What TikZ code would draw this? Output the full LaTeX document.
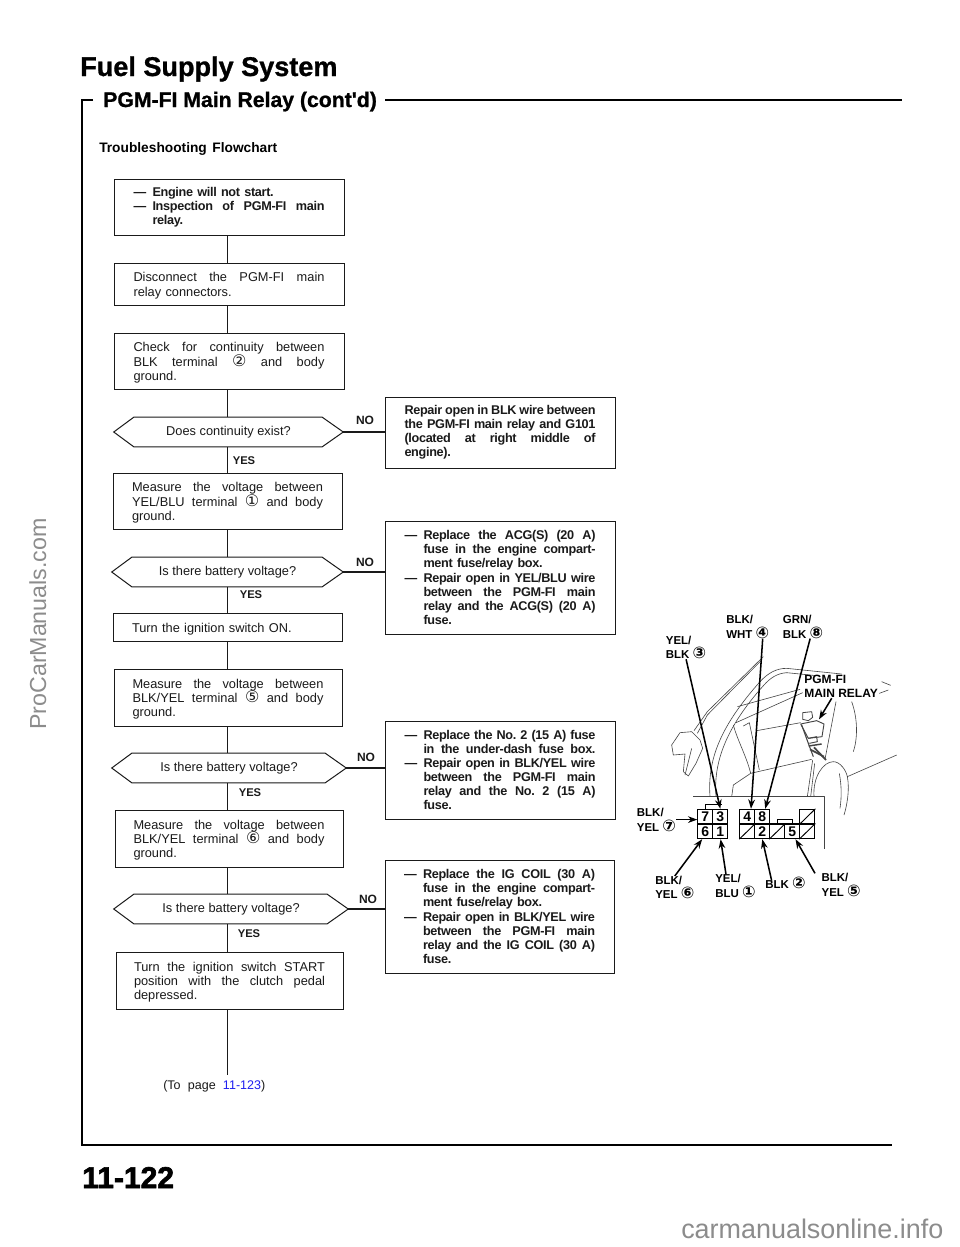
\documentclass[tikz,border=0pt]{standalone}
\usepackage{fontspec}
\setmainfont{Liberation Sans}
\newfontfamily\symf{DejaVu Sans}
\newfontfamily\bt[LetterSpace=-2.5]{Liberation Sans}
\newfontfamily\hv[FakeBold=1]{Liberation Sans Bold}
\newfontfamily\hvv[FakeBold=2.2]{Liberation Sans Bold}
\usetikzlibrary{arrows.meta,calc}
\definecolor{ink}{HTML}{1A1A1A}
\definecolor{art}{HTML}{444444}
\definecolor{link}{HTML}{2020F0}
\definecolor{mark}{HTML}{8C8C8C}
\newcommand\cn[1]{\smash{\symf\fontsize{12pt}{12pt}\selectfont #1}}
\newlength\ju \setlength\ju{0.75pt}
\newcommand\sh[2]{\hbox to #1\ju{\frenchspacing\spaceskip=.278em plus 1fill minus .1em\relax #2}}
\newcommand\J[1]{\leavevmode\sh{191}{#1}\\}
\newcommand\D[1]{\leavevmode\hbox to 19\ju{—\hss}\sh{172}{#1}\\}
\newcommand\Dn[1]{\leavevmode\hbox to 19\ju{—\hss}#1\\}
\newcommand\I[1]{\leavevmode\hspace*{19\ju}\sh{172}{#1}\\}
\newcommand\Il[1]{\leavevmode\hspace*{19\ju}#1}
\newcommand\Flow[7][normtext]{%
  \pgfmathsetmacro\cxx{(#3+#5)/2}\pgfmathsetmacro\cyy{(#4+#6)/2}%
  \pgfmathsetmacro\wdd{(#5-#3)*0.75}\pgfmathsetmacro\htt{(#6-#4)*0.75}%
  \node[stepbox,#1,minimum width=\wdd pt,minimum height=\htt pt] (#2) at (\cxx,\cyy) {#7};%
}
\newcommand\Dec[5]{% name, xl, y, xr, text
  \pgfmathsetmacro\cxx{(#2+#4)/2}\pgfmathsetmacro\wdd{(#4-#2)*0.75}%
  \node[dectext,minimum width=\wdd pt] (#1) at (\cxx,#3) {#5};%
  \draw[boxline] (#1.west) -- ($(#1.north west)+(20,0)$) -- ($(#1.north east)+(-21,0)$) -- (#1.east) -- ($(#1.south east)+(-21,0)$) -- ($(#1.south west)+(20,0)$) -- cycle;%
}
\tikzset{
  boxline/.style={draw=ink,line width=0.75pt},
  stepbox/.style={boxline,inner sep=0pt,text width=143.25pt,align=left,text=ink},
  normtext/.style={font=\fontsize{9.6pt}{10.7pt}\selectfont,execute at begin node={\leavevmode\rule{0pt}{9.5pt}}},
  boldtext/.style={font=\fontsize{9.5pt}{10.6pt}\selectfont\bt\bfseries},
  dectext/.style={inner sep=0pt,minimum height=21.75pt,text=ink,font=\fontsize{9.6pt}{10.7pt}\selectfont},
  yeslab/.style={anchor=center,inner sep=0pt,text=ink,font=\fontsize{8.4pt}{10pt}\selectfont\bfseries},
  nolab/.style={anchor=center,inner sep=0pt,text=ink,font=\fontsize{9pt}{10pt}\selectfont\bfseries},
  flowline/.style={draw=ink,line width=0.8pt},
  rule/.style={draw=black,line width=1.7pt},
  wlab/.style={inner sep=0pt,anchor=north west,align=left,text=black,font=\fontsize{8.6pt}{10.8pt}\selectfont\bfseries},
  cellbox/.style={draw=black,line width=0.8pt,inner sep=0pt,minimum width=11.25pt,minimum height=11pt,text=black,font=\fontsize{10.5pt}{11pt}\selectfont\bfseries},
  wire/.style={draw=black,line width=1.15pt,-{Stealth[length=7pt,width=5pt]}},
  carline/.style={draw=art,line width=0.45pt,line join=round},
  title/.style={inner sep=0pt,anchor=base west,text=black}
}
\begin{document}
\begin{tikzpicture}[x=0.75pt,y=-0.75pt]
\useasboundingbox[fill=white] (0,0) rectangle (960,1247);
% headings
\node[title,font=\fontsize{20.3pt}{24pt}\selectfont\hv] (ttl) at (80,76) {Fuel Supply System};
\node[title,font=\fontsize{15.9pt}{19pt}\selectfont\hv] (sub) at (103,107) {PGM-FI Main Relay (cont\textquotesingle d)};
\node[title,font=\fontsize{10.3pt}{12pt}\selectfont\bfseries] (tsf) at (99,152) {\sh{178}{Troubleshooting Flowchart}};
\node[title,font=\fontsize{22.5pt}{26pt}\selectfont\hvv] (pgn) at (82,1188) {11-122};
% frame
\coordinate (fa) at (93,100); \coordinate (fb) at (82,100); \coordinate (fc) at (82,1145); \coordinate (fd) at (892,1145);
\coordinate (fe) at (385,100); \coordinate (ff) at (902,100);
\draw[rule] (fa) -- (fb) -- (fc) -- (fd);
\draw[rule,line width=2pt] (fe) -- (ff);
% left column
\Flow[boldtext]{b1}{114}{179}{344}{235}{\Dn{Engine will not start.}\D{Inspection of PGM-FI main}\Il{relay.}}
\Flow{b2}{114}{263}{344}{305}{\J{Disconnect the PGM-FI main}relay connectors.}
\Flow{b3}{114}{333}{344}{389}{\J{Check for continuity between}\J{BLK terminal \cn{②} and body}ground.}
\Dec{d1}{114}{432}{343}{Does continuity exist?}
\Flow{b4}{113}{473}{342}{529}{\J{Measure the voltage between}\J{YEL/BLU terminal \cn{①} and body}ground.}
\Dec{d2}{112}{572}{343}{Is there battery voltage?}
\Flow{b5}{113}{613}{342}{641}{Turn the ignition switch ON.}
\Flow{b6}{114}{669}{342}{726}{\J{Measure the voltage between}\J{BLK/YEL terminal \cn{⑤} and body}ground.}
\Dec{d3}{112}{768}{346}{Is there battery voltage?}
\Flow{b7}{115}{810}{343}{867}{\J{Measure the voltage between}\J{BLK/YEL terminal \cn{⑥} and body}ground.}
\Dec{d4}{114}{909}{348}{Is there battery voltage?}
\Flow{b8}{116}{952}{343}{1009}{\J{Turn the ignition switch START}\J{position with the clutch pedal}depressed.}
\node[inner sep=0pt,anchor=base west,text=ink,font=\fontsize{9.4pt}{11pt}\selectfont] (topage) at (163,1089) {\sh{102}{(To page {\color{link}11-123})}};
\coordinate (trunk) at (227.5,0);
\coordinate (endline) at (227.5,1075);
\foreach \p/\q in {b1/b2,b2/b3,b3/d1,d1/b4,b4/d2,d2/b5,b5/b6,b6/d3,d3/b7,b7/d4,d4/b8}
  \draw[flowline] (\p.south -| trunk) -- (\q.north -| trunk);
\draw[flowline] (b8.south -| trunk) -- (endline);
% right column
\Flow[boldtext]{r1}{385}{397}{615}{468}{\J{Repair open in BLK wire between}\J{the PGM-FI main relay and G101}\J{(located at right middle of}engine).}
\Flow[boldtext]{r2}{385}{521}{615}{634}{\D{Replace the ACG(S) (20 A)}\I{fuse in the engine compart-}\Il{ment fuse/relay box.}\\\D{Repair open in YEL/BLU wire}\I{between the PGM-FI main}\I{relay and the ACG(S) (20 A)}\Il{fuse.}}
\Flow[boldtext]{r3}{385}{721}{615}{819}{\D{Replace the No. 2 (15 A) fuse}\I{in the under-dash fuse box.}\D{Repair open in BLK/YEL wire}\I{between the PGM-FI main}\I{relay and the No. 2 (15 A)}\Il{fuse.}}
\Flow[boldtext]{r4}{385}{860}{614}{973}{\D{Replace the IG COIL (30 A)}\I{fuse in the engine compart-}\Il{ment fuse/relay box.}\\\D{Repair open in BLK/YEL wire}\I{between the PGM-FI main}\I{relay and the IG COIL (30 A)}\Il{fuse.}}
\foreach \p/\q in {d1/r1,d2/r2,d3/r3,d4/r4}
  \draw[flowline] (\p.east) -- (\p.east -| \q.west);
\node[yeslab] (y1) at (244,461) {YES};
\node[yeslab] (y2) at (251,595) {YES};
\node[yeslab] (y3) at (250,793) {YES};
\node[yeslab] (y4) at (249,934) {YES};
\node[nolab] (n1) at (365,420) {NO};
\node[nolab] (n2) at (365,562) {NO};
\node[nolab] (n3) at (366,757) {NO};
\node[nolab] (n4) at (368,899) {NO};
% watermarks
\node[inner sep=0pt,anchor=base west,rotate=90,text=mark,font=\fontsize{17.4pt}{20pt}\selectfont] (wm1) at (46,730) {ProCarManuals.com};
\node[inner sep=0pt,anchor=base west,text=mark,font=\fontsize{20.2pt}{22pt}\selectfont] (wm2) at (681,1238) {carmanualsonline.info};
% relay location picture (coordinates are those of the 3x crop)
\begin{scope}[xshift=465pt,yshift=-450pt,x=0.25pt,y=-0.25pt]
  % car body
  \draw[carline] (220,590) -- (612,590) -- (612,748);
  \draw[carline] (430,170) -- (262,335) -- (222,392);
  \draw[carline] (422,183) -- (262,345) -- (232,400);
  \draw[carline] (155,435) -- (180,398) -- (215,395) -- (240,420) -- (248,445) -- (228,490) -- (205,528) -- (190,515) -- (195,462) -- (160,465) -- cycle;
  \draw[carline] (215,445) -- (195,525);
  \draw[carline] (270,590) .. controls (262,480) and (300,380) .. (420,245) .. controls (445,218) and (470,205) .. (500,205) -- (665,222);
  \draw[carline] (288,590) .. controls (280,490) and (315,385) .. (432,255) .. controls (450,235) and (470,220) .. (500,218) -- (600,228);
  \draw[carline] (348,368) -- (548,278);
  \draw[carline] (352,320) -- (540,268);
  \draw[carline] (370,378) -- (388,368) -- (418,510);
  \draw[carline] (340,375) .. controls (352,420) and (380,470) .. (392,520);
  \draw[carline] (410,392) -- (542,368);
  \draw[carline] (392,520) -- (575,478);
  \draw[carline] (335,590) -- (340,555) -- (392,520);
  \draw[carline] (648,305) -- (615,478);
  \draw[carline] (695,305) .. controls (715,360) and (712,420) .. (700,455);
  \draw[carline] (785,245) -- (812,256);
  \draw[carline] (778,280) -- (805,270);
  \draw[carline] (582,590) .. controls (578,530) and (610,485) .. (640,485) .. controls (660,485) and (678,510) .. (682,530) -- (830,465);
  \draw[carline] (682,530) .. controls (690,570) and (680,620) .. (672,645);
  \draw[carline] (658,520) .. controls (665,560) and (665,590) .. (660,625);
  \draw[carline] (578,480) -- (562,590);
  \draw[carline] (584,490) -- (572,590);
  % relay
  \draw[carline,line width=0.6pt] (548,338) -- (575,335) -- (578,352) -- (565,362) -- (548,358) -- cycle;
  \draw[carline,line width=0.7pt] (542,372) -- (590,362) -- (612,372) -- (606,410) -- (565,415) -- cycle;
  \draw[carline,line width=0.7pt] (565,415) -- (590,410) -- (592,425) -- (568,430);
  \draw[carline,line width=1.1pt] (566,438) -- (605,432);
  \draw[carline,line width=1.3pt] (570,448) -- (612,470);
  \draw[carline,line width=1.3pt] (582,442) -- (618,480);
  \draw[carline,line width=0.8pt] (545,375) -- (565,430) -- (580,470);
  \coordinate (relay) at (597,358);
  % connector, left block
  \node[cellbox] (c7) at (256,650) {7};
  \node[cellbox] (c3) at (301,650) {3};
  \node[cellbox] (c6) at (256,694) {6};
  \node[cellbox] (c1) at (301,694) {1};
  \draw[draw=black,line width=0.7pt] (255,628) -- (255,612) -- (305,612);
  % connector, right block
  \node[cellbox] (c4) at (382,650) {4};
  \node[cellbox] (c8) at (427,650) {8};
  \node[cellbox] (cx1) at (382,694) {};
  \node[cellbox] (c2) at (427,694) {2};
  \node[cellbox] (cx2) at (472,694) {};
  \node[cellbox] (c5) at (517,694) {5};
  \node[cellbox] (cx3) at (562,694) {};
  \node[cellbox] (cx4) at (562,650) {};
  \foreach \c in {cx1,cx2,cx3,cx4}
    \draw[draw=black,line width=0.7pt] (\c.south west) -- (\c.north east);
  \draw[draw=black,line width=0.7pt] (472,672) -- (472,658) -- (518,658) -- (518,672);
  % wire labels
  \node[wlab] (l3) at (137,108) {YEL/\\BLK \cn{③}};
  \node[wlab] (l4) at (318,46) {BLK/\\WHT \cn{④}};
  \node[wlab] (l8) at (488,46) {GRN/\\BLK \cn{⑧}};
  \node[wlab,font=\fontsize{9pt}{11pt}\selectfont\bfseries] (lr) at (552,224) {PGM-FI\\MAIN RELAY};
  \node[wlab] (l7) at (50,625) {BLK/\\YEL \cn{⑦}};
  \node[wlab] (l6) at (105,828) {BLK/\\YEL \cn{⑥}};
  \node[wlab] (l1) at (285,823) {YEL/\\BLU \cn{①}};
  \node[wlab] (l2) at (435,842) {BLK \cn{②}};
  \node[wlab] (l5) at (604,820) {BLK/\\YEL \cn{⑤}};
  % arrows
  \draw[wire] (l3.south) -- (c3.north);
  \draw[wire] ($(l4.south east)+(-20,0)$) -- (c4.65);
  \draw[wire] ($(l8.south east)+(-40,0)$) -- (c8.70);
  \draw[wire] (c7.200 -| l7.east) -- (c7.200);
  \draw[wire] (l6.north) -- (c6.248);
  \draw[wire] ($(l1.north west)+(33,0)$) -- (c1.272);
  \draw[wire] ($(l2.north west)+(20,0)$) -- (c2.south);
  \draw[wire] ($(l5.north west)+(-19,0)$) -- (c5.292);
  \draw[wire] ($(lr.south)+(-28,0)$) -- (relay);
\end{scope}
\end{tikzpicture}
\end{document}
